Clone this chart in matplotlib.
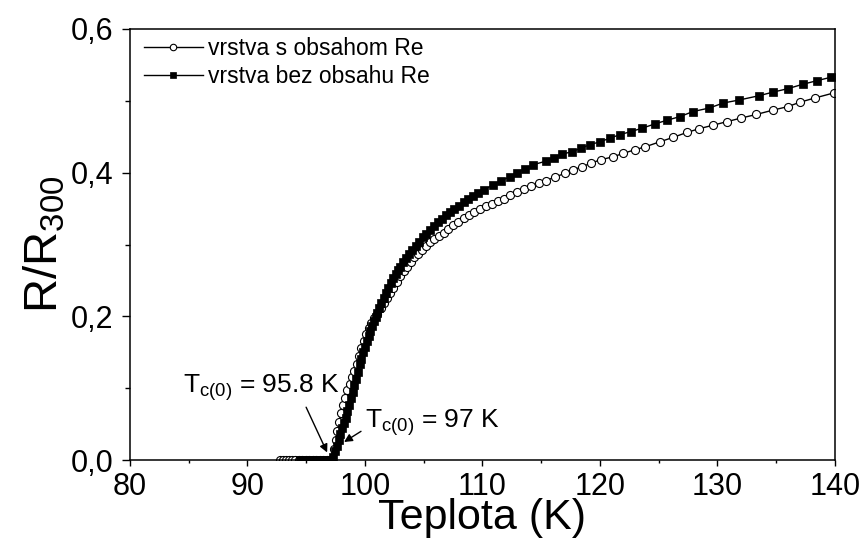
import matplotlib
matplotlib.use("Agg")
from matplotlib import pyplot as plt
from matplotlib.ticker import MultipleLocator, FuncFormatter

plt.rcParams['font.family'] = ['Liberation Sans', 'DejaVu Sans']
plt.rcParams['mathtext.fontset'] = 'custom'
plt.rcParams['mathtext.rm'] = 'Liberation Sans'
plt.rcParams['mathtext.it'] = 'Liberation Sans:italic'

# vrstva s obsahom Re (open circles)
t_re = [92.8, 93.05, 93.3, 93.55, 93.8, 94.05, 94.35, 94.65, 94.95, 95.25, 95.55, 95.85,
        96.15, 96.45, 96.75, 97.0, 97.2, 97.35, 97.5, 97.65, 97.8, 97.95, 98.1, 98.3, 98.5,
        98.7, 98.9, 99.1, 99.3, 99.5, 99.7, 99.9, 100.1, 100.3, 100.55, 100.8, 101.05,
        101.35, 101.6, 101.85, 102.1, 102.4, 102.7, 103.0, 103.3, 103.6, 103.9, 104.2, 104.5,
        104.85, 105.2, 105.55, 105.9, 106.3, 106.7, 107.1, 107.5, 107.95, 108.4, 108.85, 109.3,
        109.8, 110.3, 110.8, 111.3, 111.8, 112.35, 112.9, 113.5, 114.1, 114.8, 115.4, 116.2,
        117.0, 117.7, 118.45, 119.2, 120.05, 121.1, 122.0, 123.0, 123.85, 125.1, 126.2, 127.4,
        128.4, 129.6, 130.8, 132.0, 133.3, 134.7, 136.0, 137.0, 138.3, 139.9]
r_re = [0, 0, 0, 0, 0, 0, 0, 0, 0, 0, 0, 0,
        0, 0, 0, 0, 0.002, 0.015, 0.028, 0.04, 0.053, 0.066, 0.077, 0.087, 0.097,
        0.106, 0.115, 0.124, 0.134, 0.145, 0.156, 0.166, 0.176, 0.184, 0.191, 0.197, 0.203,
        0.211, 0.218, 0.225, 0.232, 0.24, 0.248, 0.256, 0.263, 0.269, 0.276, 0.282, 0.287,
        0.293, 0.298, 0.303, 0.307, 0.312, 0.316, 0.321, 0.327, 0.332, 0.337, 0.341, 0.345,
        0.349, 0.353, 0.357, 0.361, 0.364, 0.369, 0.373, 0.377, 0.381, 0.385, 0.389, 0.394,
        0.399, 0.404, 0.408, 0.413, 0.418, 0.422, 0.427, 0.432, 0.436, 0.443, 0.449, 0.456,
        0.461, 0.466, 0.471, 0.476, 0.481, 0.487, 0.492, 0.498, 0.504, 0.511]

# vrstva bez obsahu Re (filled squares)
t_bez = [94.5, 94.7, 94.9, 95.1, 95.3, 95.5, 95.7, 95.9, 96.1, 96.3, 96.5, 96.7, 96.9, 97.1,
         97.3, 97.45, 97.6, 97.75, 97.9, 98.05, 98.2, 98.35, 98.5, 98.65, 98.8, 98.95, 99.1,
         99.25, 99.4, 99.55, 99.7, 99.85, 100.0, 100.15, 100.3, 100.45, 100.6, 100.75, 100.9,
         101.05, 101.2, 101.4, 101.6, 101.8, 102.0, 102.2, 102.4, 102.6, 102.8, 103.0, 103.25,
         103.5, 103.75, 104.0, 104.3, 104.6, 104.9, 105.2, 105.5, 105.85, 106.2, 106.55, 106.9,
         107.25, 107.6, 108.0, 108.4, 108.8, 109.2, 109.65, 110.1, 110.9, 111.6, 112.3, 112.95,
         113.6, 114.3, 115.4, 116.1, 116.8, 117.6, 118.35, 119.15, 120.0, 120.85, 121.7, 122.6,
         123.6, 124.7, 125.7, 126.8, 127.9, 129.3, 130.5, 131.8, 133.5, 134.7, 136.0, 137.25,
         138.45, 139.7]
r_bez = [0, 0, 0, 0, 0, 0, 0, 0, 0, 0, 0, 0, 0, 0,
         0.004, 0.012, 0.02, 0.028, 0.036, 0.044, 0.051, 0.059, 0.068, 0.077, 0.086, 0.095, 0.104,
         0.113, 0.123, 0.133, 0.141, 0.15, 0.158, 0.165, 0.172, 0.179, 0.186, 0.193, 0.199,
         0.205, 0.211, 0.218, 0.225, 0.233, 0.24, 0.247, 0.253, 0.259, 0.264, 0.269, 0.275,
         0.281, 0.287, 0.292, 0.298, 0.304, 0.31, 0.315, 0.32, 0.326, 0.331, 0.336, 0.341,
         0.345, 0.349, 0.354, 0.359, 0.363, 0.367, 0.371, 0.376, 0.383, 0.389, 0.394, 0.4,
         0.405, 0.411, 0.416, 0.421, 0.426, 0.429, 0.434, 0.439, 0.443, 0.448, 0.453, 0.457,
         0.462, 0.468, 0.473, 0.478, 0.485, 0.49, 0.497, 0.501, 0.507, 0.512, 0.517, 0.523,
         0.528, 0.533]

x_ticks = [80, 90, 100, 110, 120, 130, 140]
y_ticks = [0.0, 0.2, 0.4, 0.6]

fig = plt.figure(figsize=(8.66, 5.44), dpi=100)
ax = fig.add_axes([0.1501, 0.1544, 0.8141, 0.7923])

ax.plot(t_re, r_re, color='black', lw=1.0, marker='o', markersize=5.8,
        markerfacecolor='white', markeredgecolor='black', markeredgewidth=0.8,
        label='vrstva s obsahom Re')
ax.plot(t_bez, r_bez, color='black', lw=1.0, marker='s', markersize=5.4,
        markerfacecolor='black', markeredgecolor='black', markeredgewidth=0.5,
        label='vrstva bez obsahu Re')

ax.set_xlim(80, 140)
ax.set_ylim(0, 0.6)
ax.set_xticks(x_ticks)
ax.set_yticks(y_ticks)
ax.xaxis.set_minor_locator(MultipleLocator(5))
ax.yaxis.set_minor_locator(MultipleLocator(0.1))
ax.yaxis.set_major_formatter(FuncFormatter(lambda v, p: f"{v:.1f}".replace('.', ',')))
ax.tick_params(which='both', direction='out', labelsize=22, width=1.0)
ax.tick_params(axis='x', which='major', length=4.5, pad=4)
ax.tick_params(axis='x', which='minor', length=2.5)
ax.tick_params(axis='y', which='major', length=6, pad=6)
ax.tick_params(axis='y', which='minor', length=3.5)
for s in ax.spines.values():
    s.set_linewidth(1.1)

ax.set_xlabel('Teplota (K)', fontsize=31, labelpad=-3)
ax.set_ylabel(r'R/R$_{\mathrm{300}}$', fontsize=34, labelpad=2)

ax.legend(loc='upper left', bbox_to_anchor=(0.008, 1.0), frameon=False, fontsize=16.5,
          handlelength=2.6, handletextpad=0.2, borderpad=0.1, borderaxespad=0.25,
          labelspacing=0.2, markerscale=0.8)

ax.annotate('', xy=(96.88, 0.007), xytext=(94.89, 0.077),
            arrowprops=dict(arrowstyle='-|>', color='black', lw=1.0, mutation_scale=12))
ax.annotate('', xy=(98.02, 0.023), xytext=(99.86, 0.042),
            arrowprops=dict(arrowstyle='-|>', color='black', lw=1.0, mutation_scale=12))
ax.text(84.5, 0.093, r'T$_{\mathrm{c(0)}}$ = 95.8 K', fontsize=19)
ax.text(100.0, 0.045, r'T$_{\mathrm{c(0)}}$ = 97 K', fontsize=19)

fig.savefig('out.png', dpi=100)
